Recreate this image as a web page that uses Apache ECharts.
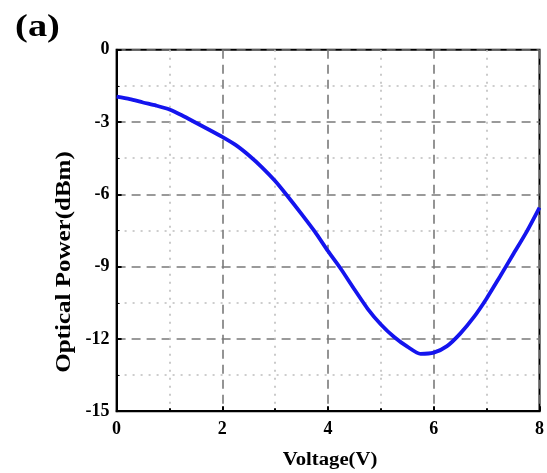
<!DOCTYPE html>
<html>
<head>
<meta charset="utf-8">
<script src="https://cdn.jsdelivr.net/npm/echarts@6/dist/echarts.min.js"></script>
<style>html,body{margin:0;padding:0;background:#fff}#c{width:547px;height:473px}</style>
</head>
<body>
<div id="c"></div>
<script>
const voltage = [0,0.25,0.5,0.75,1.0,1.25,1.5,1.75,2.0,2.25,2.5,2.75,3.0,3.25,3.5,3.75,4.0,4.25,4.5,4.75,5.0,5.25,5.5,5.75,6.0,6.25,6.5,6.75,7.0,7.25,7.5,7.75,8.0];
const power = [-1.95,-2.05,-2.19,-2.32,-2.48,-2.74,-3.03,-3.32,-3.62,-3.95,-4.38,-4.88,-5.45,-6.12,-6.82,-7.55,-8.36,-9.12,-9.95,-10.75,-11.40,-11.92,-12.32,-12.62,-12.57,-12.30,-11.78,-11.12,-10.32,-9.42,-8.50,-7.58,-6.55];
const xTicks = [0,2,4,6,8];
const yTicks = [0,-3,-6,-9,-12,-15];
const panelLabel = '(a)';
const xName = 'Voltage(V)';
const yName = 'Optical Power(dBm)';

const chart = echarts.init(document.getElementById('c'), null, {renderer:'canvas'});
const font = '"Liberation Serif", "Times New Roman", serif';
function txt(t, size){
  return {text:t, font:'bold ' + size + 'px "Liberation Serif", "Times New Roman", serif', fill:'#000', align:'center', verticalAlign:'middle'};
}
chart.setOption({
  animation:false,
  backgroundColor:'#fff',
  graphic:[
    {type:'text', x:37.5, y:28, scaleX:1.2, style:txt(panelLabel, 32)},
    {type:'text', x:330, y:460, scaleX:1.15, style:txt(xName, 18)},
    {type:'text', x:65, y:262, rotation:Math.PI/2, scaleX:1.25, style:txt(yName, 20)}
  ],
  grid:{left:116.6, right:3.6, top:49.7, bottom:61.8, show:true, borderColor:'#000', borderWidth:2, backgroundColor:'transparent'},
  xAxis:{
    type:'value', min:0, max:8, interval:2,
    axisLine:{show:true, onZero:false, lineStyle:{color:'#000', width:2}},
    axisTick:{show:true, inside:true, length:5, lineStyle:{color:'#000', width:2}},
    minorTick:{show:true, splitNumber:2, length:3, lineStyle:{color:'#000', width:2}},
    axisLabel:{fontFamily:font, fontWeight:'bold', fontSize:18, color:'#000', margin:9,
      formatter:v=>xTicks.includes(v)?String(v):''},
    splitLine:{show:true, lineStyle:{color:'#7a7a7a', width:1.6, type:[9,6]}},
    minorSplitLine:{show:true, lineStyle:{color:'#bdbdbd', width:1.6, type:[2,6]}}
  },
  yAxis:{
    type:'value', min:-15, max:0, interval:3,
    axisLine:{show:true, onZero:false, lineStyle:{color:'#000', width:2}},
    axisTick:{show:true, inside:true, length:5, lineStyle:{color:'#000', width:2}},
    minorTick:{show:true, splitNumber:2, length:3, lineStyle:{color:'#000', width:1}},
    axisLabel:{fontFamily:font, fontWeight:'bold', fontSize:18, color:'#000', margin:7,
      formatter:v=>yTicks.includes(v)?String(v):''},
    splitLine:{show:true, lineStyle:{color:'#7a7a7a', width:1.6, type:[9,6]}},
    minorSplitLine:{show:true, lineStyle:{color:'#bdbdbd', width:1.6, type:[2,6]}}
  },
  series:[{
    type:'line', data:voltage.map((v,i)=>[v,power[i]]), showSymbol:false, smooth:0.25,
    lineStyle:{color:'#1414ee', width:3.8}, z:5
  }]
});
</script>
</body>
</html>
